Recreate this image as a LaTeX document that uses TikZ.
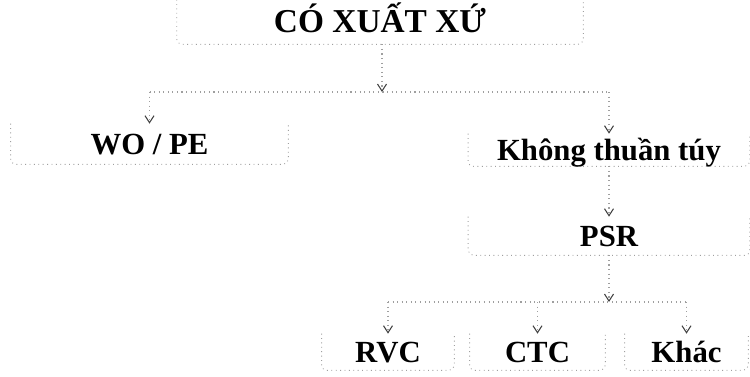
\documentclass[tikz,border=0pt]{standalone}
\usepackage{fontspec}
\setmainfont{Liberation Serif}
\usetikzlibrary{arrows.meta,positioning}

\tikzset{
  labelbox/.style={inner sep=0pt, font=\bfseries\fontsize{17.5}{19}\selectfont,
    text height=0.41cm, text depth=0cm},
  frame/.style={gray!75, dotted, line width=0.5pt, rounded corners=3pt},
  branch/.style={gray!75, dotted, line width=0.6pt},
  tip/.style={-{Straight Barb[black!75,length=1.4mm,width=1.8mm]}}
}

\begin{document}
\begin{tikzpicture}[x=0.02cm, y=-0.02cm]
  \useasboundingbox (0,0) rectangle (750,376);

  % boxes
  \node[labelbox, font=\bfseries\fontsize{19}{21}\selectfont,
        minimum width=8.12cm, minimum height=0.88cm] (top) at (380,22) {CÓ XUẤT XỨ};
  \node[labelbox, minimum width=5.54cm, minimum height=0.8cm] (wope) at (149.5,144) {WO / PE};
  \node[labelbox, minimum width=5.62cm, minimum height=0.64cm] (khong) at (609,150) {Không thuần túy};
  \node[labelbox, minimum width=5.62cm, minimum height=0.76cm] (psr) at (609,236) {PSR};
  \node[labelbox, minimum width=2.64cm, minimum height=0.72cm] (rvc) at (388,352) {RVC};
  \node[labelbox, minimum width=2.7cm, minimum height=0.72cm] (ctc) at (537.5,352) {CTC};
  \node[labelbox, minimum width=2.46cm, minimum height=0.72cm] (khac) at (686.5,352) {Khác};

  \foreach \n in {top,wope,khong,psr,rvc,ctc,khac} {
    \draw[frame] (\n.north west) -- (\n.south west) -- (\n.south east) -- (\n.north east);
  }

  % connectors
  \coordinate (split) at (382,92);
  \coordinate (join) at (609,302);

  \draw[branch, tip] (top.south -| split) -- (split);
  \draw[branch] (split -| wope) -- (split -| khong);
  \draw[branch, tip] (split -| wope) -- (wope.north);
  \draw[branch, tip] (split -| khong) -- (khong.north);

  \draw[branch, tip] (khong.south) -- (psr.north);
  \draw[branch, tip] (psr.south) -- (join);
  \draw[branch] (join -| rvc) -- (join -| khac);
  \foreach \n in {rvc,ctc,khac} {
    \draw[branch, tip] (join -| \n) -- (\n.north);
  }
\end{tikzpicture}
\end{document}
